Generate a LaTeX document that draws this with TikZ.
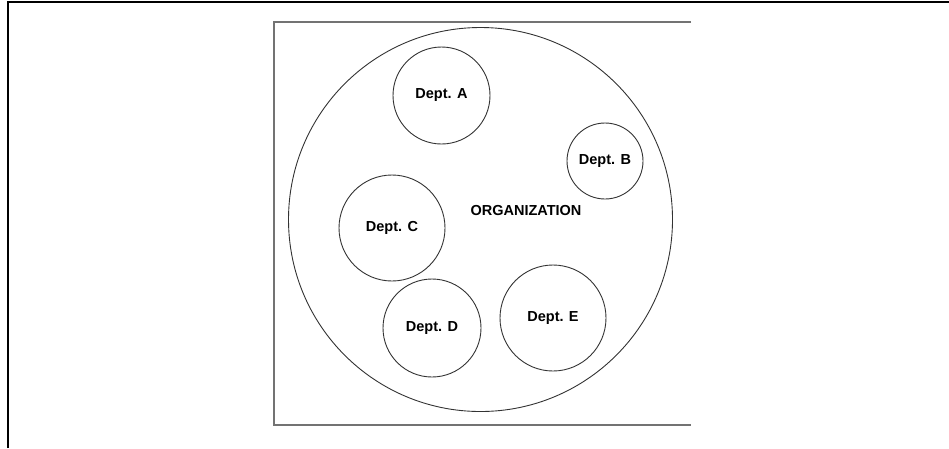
\documentclass[tikz,border=0pt]{standalone}
\usepackage{fontspec}
\setmainfont{Liberation Sans}

\begin{document}
\begin{tikzpicture}[x=1pt,y=-1pt]
\tikzstyle{every node}=[inner sep=0pt, font=\fontsize{14.5}{17}\selectfont\bfseries]
\tikzstyle{dept}=[draw=black!80, circle, line width=0.9pt]
\useasboundingbox (0,0) rectangle (949,448);
\draw[line width=1.6pt] (8,448) -- (8,2) -- (949,2);
\draw[black!55, line width=1.8pt] (691,22) -- (274,22) -- (274,425) -- (691,425);
\draw (480.5,219.5) node (org) [dept, minimum size=384pt] {};
\draw (526,211) node (orgname) {ORGANIZATION};
\draw (441.5,95.5) node (deptA) [dept, minimum size=97pt] {Dept. A};
\draw (605,161) node (deptB) [dept, minimum size=76pt] {Dept. B};
\draw (392,228) node (deptC) [dept, minimum size=106pt] {Dept. C};
\draw (432,328) node (deptD) [dept, minimum size=98pt] {Dept. D};
\draw (553,318) node (deptE) [dept, minimum size=106pt] {Dept. E};
\end{tikzpicture}
\end{document}
